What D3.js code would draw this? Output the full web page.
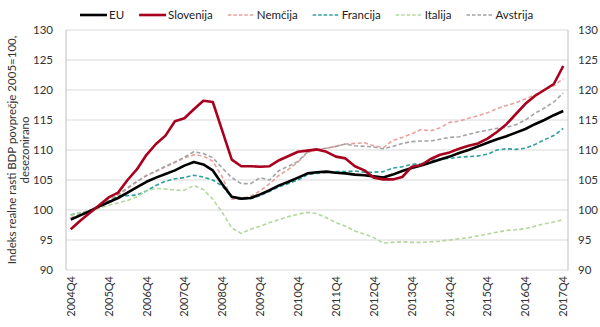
<!DOCTYPE html>
<html>
<head>
<meta charset="utf-8">
<script src="https://cdn.jsdelivr.net/npm/d3@7"></script>
<style>
  body { margin: 0; background: white; }
  text { font-family: Lato, "Open Sans", sans-serif; }
</style>
</head>
<body>
<script>
let width = 600, height = 327
let margin = { left: 66, right: 32, top: 30, bottom: 57 }

// quarters 2004Q4 .. 2017Q4
let quarters = ['2004Q4']
for (let y = 2005; y <= 2017; y++) for (let q = 1; q <= 4; q++) quarters.push(y + 'Q' + q)

let yTicks = [90, 95, 100, 105, 110, 115, 120, 125, 130]

let seriesNames = ['EU', 'Slovenija', 'Nemčija', 'Francija', 'Italija', 'Avstrija']

let eu = [98.4, 99.1, 99.8, 100.6, 101.3, 102.0, 102.9, 103.8, 104.7, 105.4, 106.0, 106.6, 107.4,
  108.0, 107.6, 106.6, 104.3, 102.2, 101.9, 102.0, 102.6, 103.3, 104.1, 104.7, 105.4,
  106.1, 106.3, 106.4, 106.2, 106.1, 105.9, 105.8, 105.6, 105.4, 105.9, 106.5, 107.0,
  107.4, 107.9, 108.4, 108.9, 109.5, 110.0, 110.6, 111.2, 111.8, 112.3, 112.9, 113.5,
  114.3, 115.0, 115.8, 116.5]

let slovenija = [96.8, 98.2, 99.5, 100.8, 102.1, 102.9, 105.0, 106.8, 109.2, 111.0, 112.4, 114.8, 115.3,
  116.8, 118.2, 118.0, 113.2, 108.4, 107.3, 107.3, 107.2, 107.3, 108.3, 109.0, 109.7,
  109.9, 110.1, 109.7, 108.9, 108.6, 107.3, 106.6, 105.4, 105.1, 105.1, 105.5, 107.2,
  107.5, 108.5, 109.2, 109.6, 110.2, 110.7, 111.1, 111.9, 113.0, 114.3, 116.0, 117.7,
  119.0, 120.0, 121.0, 124.0]

let nemcija = [98.7, 99.3, 99.9, 100.4, 101.4, 102.4, 103.6, 104.7, 105.8, 106.4, 107.2, 107.9, 108.7,
  109.2, 109.0, 108.1, 105.5, 101.8, 101.9, 102.3, 103.2, 104.4, 105.8, 106.8, 108.0,
  109.6, 110.0, 110.3, 110.6, 111.0, 111.1, 111.2, 110.7, 110.4, 111.6, 112.1, 112.7,
  113.4, 113.2, 113.7, 114.6, 114.8, 115.3, 115.7, 116.2, 116.9, 117.4, 117.9, 118.5,
  119.2, 120.0, 120.7, 121.9]

let francija = [99.2, 99.5, 99.9, 100.4, 101.4, 102.3, 102.4, 102.5, 103.2, 104.1, 104.8, 105.2, 105.4,
  105.8, 105.5, 105.0, 104.0, 102.1, 101.8, 101.9, 102.4, 103.1, 103.9, 104.4, 105.0,
  105.9, 106.1, 106.3, 106.4, 106.4, 106.5, 106.3, 106.3, 106.4, 107.0, 107.2, 107.6,
  107.7, 108.2, 108.5, 108.6, 108.8, 108.9, 109.0, 109.3, 110.0, 110.2, 110.1, 110.3,
  110.9, 111.7, 112.4, 113.6]

let italija = [99.1, 99.5, 99.9, 100.3, 100.8, 101.2, 101.6, 102.2, 103.2, 103.6, 103.5, 103.3, 103.3,
  104.1, 103.4, 101.8, 99.6, 97.0, 96.1, 96.8, 97.3, 97.9, 98.4, 98.9, 99.3,
  99.6, 99.4, 98.7, 97.9, 97.3, 96.5, 96.0, 95.4, 94.5, 94.6, 94.7, 94.6,
  94.6, 94.7, 94.8, 95.0, 95.2, 95.4, 95.7, 96.0, 96.3, 96.6, 96.7, 96.9,
  97.3, 97.7, 98.0, 98.4]

let avstrija = [98.6, 99.3, 99.9, 100.6, 101.6, 102.6, 103.7, 104.8, 105.7, 106.5, 107.3, 108.0, 108.8,
  109.7, 109.4, 108.7, 107.0, 105.4, 104.4, 104.4, 105.4, 105.0, 106.6, 107.3, 108.1,
  109.7, 110.1, 110.3, 110.6, 111.0, 110.7, 110.6, 110.5, 110.2, 110.6, 111.1, 111.4,
  111.5, 111.5, 111.8, 112.1, 112.2, 112.6, 113.0, 113.3, 113.6, 113.8, 114.2, 115.0,
  116.1, 117.0, 118.0, 119.5]

let series = [
  { name: 'Nemčija', values: nemcija, color: '#e8a09c', width: 1.6, dash: '4,2.5' },
  { name: 'Francija', values: francija, color: '#2f9e9e', width: 1.6, dash: '4,2.5' },
  { name: 'Italija', values: italija, color: '#b4d79b', width: 1.6, dash: '4,2.5' },
  { name: 'Avstrija', values: avstrija, color: '#a3a3a3', width: 1.6, dash: '4,2.5' },
  { name: 'EU', values: eu, color: '#000000', width: 2.6, dash: null },
  { name: 'Slovenija', values: slovenija, color: '#a8001e', width: 2.6, dash: null }
]

let svgContainer = d3.select('body').append('svg')
  .attr('width', width)
  .attr('height', height)

svgContainer.append('rect')
  .attr('width', '100%')
  .attr('height', '100%')
  .attr('fill', 'white')

let x = d3.scalePoint()
  .domain(quarters)
  .range([margin.left, width - margin.right])
  .padding(0.5)

let y = d3.scaleLinear()
  .domain([90, 130])
  .range([height - margin.bottom, margin.top])

// gridlines
svgContainer.append('g')
  .selectAll('line')
  .data(yTicks)
  .join('line')
  .attr('x1', margin.left)
  .attr('x2', width - margin.right)
  .attr('y1', d => y(d))
  .attr('y2', d => y(d))
  .attr('stroke', '#d9d9d9')
  .attr('stroke-width', 1)

// left and right axis lines
for (let xx of [margin.left, width - margin.right]) {
  svgContainer.append('line')
    .attr('x1', xx).attr('x2', xx)
    .attr('y1', margin.top).attr('y2', height - margin.bottom)
    .attr('stroke', '#bfbfbf')
    .attr('stroke-width', 1)
}

// y tick labels
let leftAxis = d3.axisLeft(y).tickValues(yTicks).tickSize(0).tickPadding(13)
let gl = svgContainer.append('g').attr('transform', `translate(${margin.left},0)`).call(leftAxis)
let rightAxis = d3.axisRight(y).tickValues(yTicks).tickSize(0).tickPadding(10)
let gr = svgContainer.append('g').attr('transform', `translate(${width - margin.right},0)`).call(rightAxis)
for (let g of [gl, gr]) {
  g.select('.domain').remove()
  g.selectAll('text')
    .attr('font-family', 'Lato, sans-serif')
    .attr('font-size', '11.5px')
    .attr('fill', '#333')
}

// x tick labels, every 4th quarter, rotated
let xLabels = quarters.filter((q, i) => i % 4 === 0)
svgContainer.append('g')
  .selectAll('text')
  .data(xLabels)
  .join('text')
  .attr('transform', d => `translate(${x(d) + 4},${height - margin.bottom + 6}) rotate(-90)`)
  .attr('text-anchor', 'end')
  .attr('font-size', '11px')
  .attr('fill', '#333')
  .text(d => d)

// y axis title
let title = svgContainer.append('text')
  .attr('transform', `translate(16,${(margin.top + height - margin.bottom) / 2}) rotate(-90)`)
  .attr('text-anchor', 'middle')
  .attr('font-size', '11.5px')
  .attr('fill', '#333')
title.append('tspan').attr('x', 0).attr('dy', 0).text('Indeks realne rasti BDP povprečje 2005=100,')
title.append('tspan').attr('x', 0).attr('dy', 13).text('desezonirano')

// lines
let line = d3.line()
  .x((d, i) => x(quarters[i]))
  .y(d => y(d))

for (let s of series) {
  svgContainer.append('path')
    .datum(s.values)
    .attr('d', line)
    .attr('fill', 'none')
    .attr('stroke', s.color)
    .attr('stroke-width', s.width)
    .attr('stroke-dasharray', s.dash)
    .attr('stroke-linejoin', 'round')
}

// legend
let legend = svgContainer.append('g')
let lx = 80
for (let name of seriesNames) {
  let s = series.find(d => d.name === name)
  legend.append('line')
    .attr('x1', lx).attr('x2', lx + 27)
    .attr('y1', 15).attr('y2', 15)
    .attr('stroke', s.color)
    .attr('stroke-width', s.dash ? 1.3 : 2.6)
    .attr('stroke-dasharray', s.dash ? '3.5,2' : null)
  let t = legend.append('text')
    .attr('x', lx + 29)
    .attr('y', 19)
    .attr('font-size', '11.5px')
    .attr('fill', '#222')
    .text(name)
  lx += 29 + t.node().getComputedTextLength() + 15
}
</script>
</body>
</html>
